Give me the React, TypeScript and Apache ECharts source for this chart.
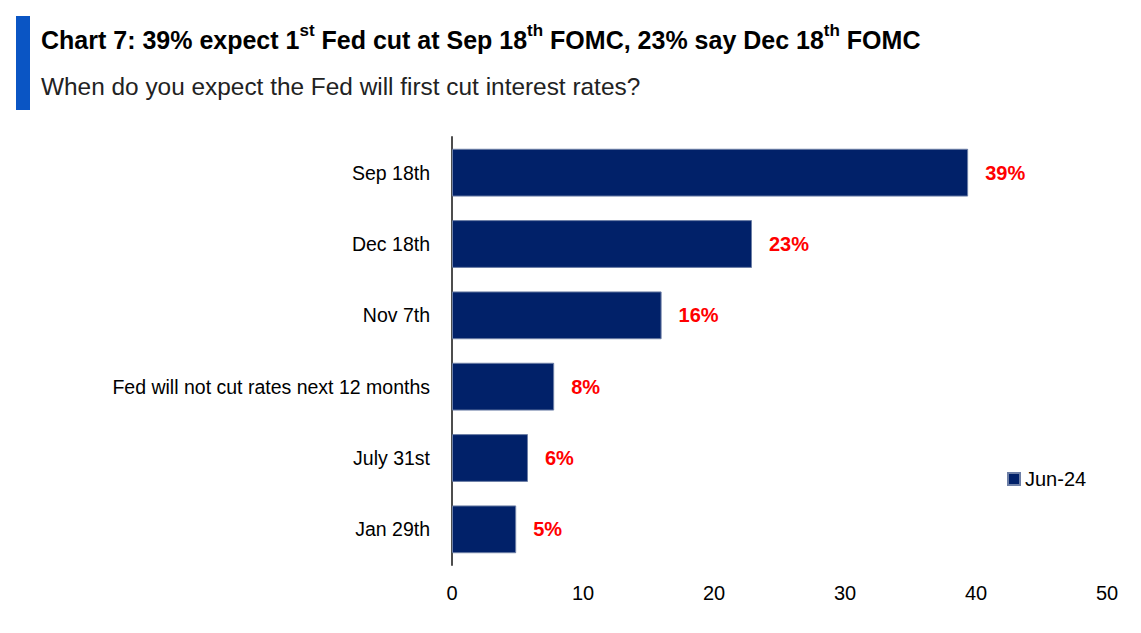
import React, { useEffect, useRef } from "react";
import * as echarts from "echarts";

const categories = [
  "Sep 18th",
  "Dec 18th",
  "Nov 7th",
  "Fed will not cut rates next 12 months",
  "July 31st",
  "Jan 29th",
];
const values = [39.4, 22.9, 16.0, 7.8, 5.8, 4.9];
const seriesName = "Jun-24";
const xTicks = { min: 0, max: 50, interval: 10 };

const FONT = "'Liberation Sans', Arial, sans-serif";

export default function App() {
  const ref = useRef<HTMLDivElement>(null);
  useEffect(() => {
    if (!ref.current) return;
    const chart = echarts.init(ref.current, undefined, { renderer: "svg" });
    chart.setOption({
      animation: false,
      backgroundColor: "#ffffff",
      title: [
        {
          text:
            "{b|Chart 7: 39% expect 1}{s|st}{b| Fed cut at Sep 18}{s|th}{b| FOMC, 23% say Dec 18}{s|th}{b| FOMC}",
          left: 41,
          top: 22,
          padding: 0,
          textStyle: {
            rich: {
              b: {
                fontFamily: FONT,
                fontWeight: "bold",
                fontSize: 25,
                lineHeight: 30,
                color: "#000000",
                verticalAlign: "bottom",
              },
              s: {
                fontFamily: FONT,
                fontWeight: "bold",
                fontSize: 17,
                lineHeight: 18,
                color: "#000000",
                verticalAlign: "top",
              },
            },
          },
        },
        {
          text: "When do you expect the Fed will first cut interest rates?",
          left: 41,
          top: 74,
          padding: 0,
          textStyle: {
            fontFamily: FONT,
            fontWeight: "normal",
            fontSize: 24.4,
            color: "#222222",
          },
        },
      ],
      graphic: [
        {
          type: "rect",
          shape: { x: 16, y: 16, width: 14, height: 94 },
          style: { fill: "#0A55C4" },
        },
      ],
      legend: {
        data: [seriesName],
        left: 1002,
        top: 464,
        itemWidth: 12,
        itemHeight: 12,
        itemGap: 5,
        icon: "rect",
        textStyle: { fontFamily: FONT, fontSize: 20, color: "#000000" },
      },
      grid: { left: 452, right: 34, top: 137, bottom: 68 },
      xAxis: {
        type: "value",
        min: xTicks.min,
        max: xTicks.max,
        interval: xTicks.interval,
        axisLine: { show: false },
        axisTick: { show: false },
        splitLine: { show: false },
        axisLabel: {
          fontFamily: FONT,
          fontSize: 20,
          color: "#000000",
          margin: 18,
        },
      },
      yAxis: {
        type: "category",
        data: categories,
        inverse: true,
        axisLine: { show: true, lineStyle: { color: "#4d4d4d", width: 2 } },
        axisTick: { show: false },
        axisLabel: {
          fontFamily: FONT,
          fontSize: 19.5,
          color: "#000000",
          margin: 22,
        },
      },
      series: [
        {
          name: seriesName,
          type: "bar",
          data: values,
          barCategoryGap: "33%",
          itemStyle: { color: "#012169", borderColor: "#6d7fa6", borderWidth: 1 },
          label: {
            show: true,
            position: "right",
            distance: 17,
            formatter: (p: any) => Math.round(p.value) + "%",
            fontFamily: FONT,
            fontWeight: "bold",
            fontSize: 20,
            color: "#FF0000",
          },
        },
      ],
    });
    return () => chart.dispose();
  }, []);
  return (
    <div
      ref={ref}
      style={{ position: "fixed", left: 0, top: 0, width: 1141, height: 633 }}
    />
  );
}
